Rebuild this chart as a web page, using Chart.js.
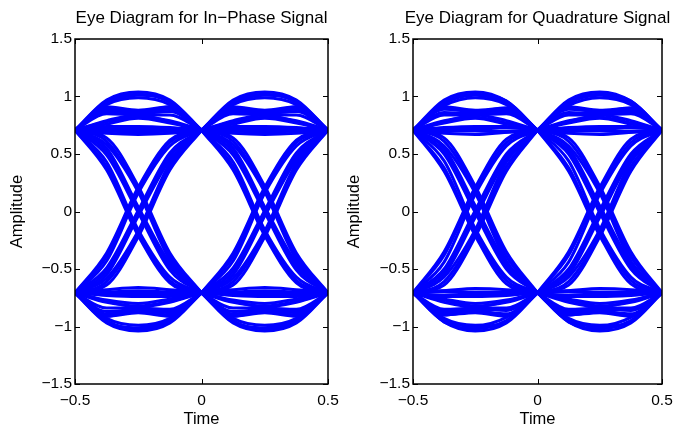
<!DOCTYPE html>
<html>
<head>
<meta charset="utf-8">
<script src="https://cdn.jsdelivr.net/npm/chart.js@4.4.1/dist/chart.umd.min.js"></script>
<style>
  html, body { margin: 0; background: #fff; overflow: hidden; width: 675px; height: 427px; }
  canvas { position: absolute; left: 0; top: 0; }
</style>
</head>
<body>
<canvas id="inPhase" width="675" height="427"></canvas>
<canvas id="quad" width="760" height="427"></canvas>
<script>
// sample times inside one symbol, and the start of each of the two eyes
var eyeOffsets = [0, 0.125, 0.25, 0.375, 0.5];
var eyeStarts = [-0.5, 0];
var timeTicks = [-0.5, 0, 0.5];
var ampTicks = [-1.5, -1, -0.5, 0, 0.5, 1, 1.5];

// traces (one symbol each)
var inPhaseTraces = [
  [0.707, 0.97, 1.04, 0.97, 0.707],
  [0.707, 0.96, 1.02, 0.95, 0.707],
  [0.707, 0.94, 1.01, 0.96, 0.707],
  [0.707, 0.93, 0.99, 0.93, 0.707],
  [0.707, 0.91, 0.88, 0.91, 0.707],
  [0.707, 0.90, 0.87, 0.89, 0.707],
  [0.707, 0.88, 0.86, 0.91, 0.707],
  [0.707, 0.87, 0.85, 0.87, 0.707],
  [0.707, 0.85, 0.84, 0.84, 0.707],
  [0.707, 0.79, 0.84, 0.78, 0.707],
  [0.707, 0.78, 0.82, 0.79, 0.707],
  [0.707, 0.76, 0.81, 0.77, 0.707],
  [0.707, 0.74, 0.74, 0.73, 0.707],
  [0.707, 0.73, 0.72, 0.72, 0.707],
  [0.707, 0.71, 0.71, 0.71, 0.707],
  [0.707, 0.70, 0.69, 0.70, 0.707],
  [0.707, 0.68, 0.67, 0.68, 0.707],
  [-0.707, -0.97, -1.04, -0.97, -0.707],
  [-0.707, -0.95, -1.02, -0.96, -0.707],
  [-0.707, -0.96, -1.01, -0.94, -0.707],
  [-0.707, -0.93, -0.99, -0.93, -0.707],
  [-0.707, -0.91, -0.88, -0.91, -0.707],
  [-0.707, -0.89, -0.87, -0.90, -0.707],
  [-0.707, -0.91, -0.86, -0.88, -0.707],
  [-0.707, -0.87, -0.85, -0.87, -0.707],
  [-0.707, -0.84, -0.84, -0.85, -0.707],
  [-0.707, -0.78, -0.83, -0.79, -0.707],
  [-0.707, -0.79, -0.82, -0.78, -0.707],
  [-0.707, -0.77, -0.80, -0.76, -0.707],
  [-0.707, -0.73, -0.74, -0.74, -0.707],
  [-0.707, -0.72, -0.72, -0.73, -0.707],
  [-0.707, -0.71, -0.71, -0.71, -0.707],
  [-0.707, -0.70, -0.69, -0.70, -0.707],
  [-0.707, -0.68, -0.66, -0.68, -0.707],
  [0.707, 0.36, -0.21, -0.62, -0.707],
  [0.707, 0.39, -0.19, -0.60, -0.707],
  [0.707, 0.43, -0.16, -0.57, -0.707],
  [0.707, 0.49, -0.01, -0.51, -0.707],
  [0.707, 0.52, 0.02, -0.48, -0.707],
  [0.707, 0.55, 0.04, -0.45, -0.707],
  [0.707, 0.58, 0.17, -0.42, -0.707],
  [0.707, 0.61, 0.19, -0.39, -0.707],
  [0.707, 0.64, 0.22, -0.36, -0.707],
  [-0.707, -0.36, 0.21, 0.62, 0.707],
  [-0.707, -0.39, 0.19, 0.60, 0.707],
  [-0.707, -0.43, 0.16, 0.57, 0.707],
  [-0.707, -0.49, 0.01, 0.51, 0.707],
  [-0.707, -0.52, -0.02, 0.48, 0.707],
  [-0.707, -0.55, -0.04, 0.45, 0.707],
  [-0.707, -0.58, -0.17, 0.42, 0.707],
  [-0.707, -0.61, -0.19, 0.39, 0.707],
  [-0.707, -0.64, -0.22, 0.36, 0.707]
];

// traces
var quadTraces = [
  [0.707, 0.97, 1.04, 0.96, 0.707],
  [0.707, 0.95, 1.02, 0.96, 0.707],
  [0.707, 0.94, 1.01, 0.94, 0.707],
  [0.707, 0.92, 0.99, 0.93, 0.707],
  [0.707, 0.91, 0.88, 0.90, 0.707],
  [0.707, 0.89, 0.87, 0.90, 0.707],
  [0.707, 0.90, 0.86, 0.88, 0.707],
  [0.707, 0.86, 0.85, 0.87, 0.707],
  [0.707, 0.84, 0.84, 0.85, 0.707],
  [0.707, 0.78, 0.84, 0.79, 0.707],
  [0.707, 0.79, 0.82, 0.77, 0.707],
  [0.707, 0.77, 0.81, 0.76, 0.707],
  [0.707, 0.73, 0.74, 0.74, 0.707],
  [0.707, 0.72, 0.73, 0.73, 0.707],
  [0.707, 0.71, 0.71, 0.70, 0.707],
  [0.707, 0.70, 0.70, 0.69, 0.707],
  [0.707, 0.68, 0.67, 0.69, 0.707],
  [-0.707, -0.96, -1.04, -0.97, -0.707],
  [-0.707, -0.96, -1.02, -0.95, -0.707],
  [-0.707, -0.94, -1.00, -0.95, -0.707],
  [-0.707, -0.93, -0.99, -0.92, -0.707],
  [-0.707, -0.90, -0.88, -0.91, -0.707],
  [-0.707, -0.90, -0.87, -0.89, -0.707],
  [-0.707, -0.88, -0.86, -0.90, -0.707],
  [-0.707, -0.87, -0.85, -0.86, -0.707],
  [-0.707, -0.85, -0.84, -0.84, -0.707],
  [-0.707, -0.79, -0.83, -0.78, -0.707],
  [-0.707, -0.77, -0.82, -0.79, -0.707],
  [-0.707, -0.76, -0.80, -0.77, -0.707],
  [-0.707, -0.74, -0.74, -0.73, -0.707],
  [-0.707, -0.73, -0.73, -0.72, -0.707],
  [-0.707, -0.70, -0.71, -0.71, -0.707],
  [-0.707, -0.69, -0.70, -0.70, -0.707],
  [-0.707, -0.69, -0.67, -0.68, -0.707],
  [0.707, 0.35, -0.21, -0.63, -0.707],
  [0.707, 0.38, -0.19, -0.60, -0.707],
  [0.707, 0.44, -0.15, -0.57, -0.707],
  [0.707, 0.50, -0.01, -0.50, -0.707],
  [0.707, 0.52, 0.02, -0.48, -0.707],
  [0.707, 0.55, 0.05, -0.45, -0.707],
  [0.707, 0.57, 0.16, -0.43, -0.707],
  [0.707, 0.61, 0.19, -0.39, -0.707],
  [0.707, 0.64, 0.22, -0.35, -0.707],
  [-0.707, -0.35, 0.21, 0.63, 0.707],
  [-0.707, -0.38, 0.19, 0.60, 0.707],
  [-0.707, -0.44, 0.15, 0.57, 0.707],
  [-0.707, -0.50, 0.01, 0.50, 0.707],
  [-0.707, -0.52, -0.02, 0.48, 0.707],
  [-0.707, -0.55, -0.05, 0.45, 0.707],
  [-0.707, -0.57, -0.16, 0.43, 0.707],
  [-0.707, -0.61, -0.19, 0.39, 0.707],
  [-0.707, -0.64, -0.22, 0.35, 0.707]
];

function minus(v) {
  return v < 0 ? '\u2212' + Math.abs(v) : String(v);
}

// matlab style box with inward ticks
var boxPlugin = {
  id: 'box',
  afterDraw: function(chart) {
    var ctx = chart.ctx, a = chart.chartArea;
    var xs = chart.scales.x, ys = chart.scales.y;
    ctx.save();
    ctx.strokeStyle = '#000';
    ctx.lineWidth = 1.5;
    ctx.strokeRect(a.left, a.top, a.right - a.left, a.bottom - a.top);
    ctx.lineWidth = 1;
    ctx.beginPath();
    timeTicks.forEach(function(t) {
      var px = Math.round(xs.getPixelForValue(t)) + 0.5;
      ctx.moveTo(px, a.bottom); ctx.lineTo(px, a.bottom - 5);
      ctx.moveTo(px, a.top); ctx.lineTo(px, a.top + 5);
    });
    ampTicks.forEach(function(v) {
      var py = Math.round(ys.getPixelForValue(v)) + 0.5;
      ctx.moveTo(a.left, py); ctx.lineTo(a.left + 5, py);
      ctx.moveTo(a.right, py); ctx.lineTo(a.right - 5, py);
    });
    ctx.stroke();
    ctx.restore();
  }
};

var font = 'Liberation Sans, Arial, sans-serif';

function makeEye(id, titleText, traces, padLeft, padRight, yWidth) {
  var sets = [];
  eyeStarts.forEach(function(start) {
    traces.forEach(function(tr) {
      sets.push({
        data: tr.map(function(v, i) { return { x: start + eyeOffsets[i], y: v }; }),
        borderColor: '#0000ff',
        borderWidth: 3,
        pointRadius: 0,
        cubicInterpolationMode: 'monotone',
        fill: false
      });
    });
  });

  var ctx = document.getElementById(id).getContext('2d');
  return new Chart(ctx, {
    type: 'line',
    data: { datasets: sets },
    options: {
      responsive: false,
      animation: false,
      events: [],
      layout: { padding: { left: padLeft, right: padRight, top: 0, bottom: 0 } },
      plugins: {
        legend: { display: false },
        tooltip: { enabled: false },
        title: {
          display: true,
          text: titleText,
          color: '#000',
          font: { family: font, size: 17, weight: 'normal' },
          padding: { top: 8, bottom: 10.6 }
        }
      },
      scales: {
        x: {
          type: 'linear',
          min: -0.5, max: 0.5,
          grid: { display: false, drawTicks: false },
          border: { display: false },
          afterBuildTicks: function(s) { s.ticks = timeTicks.map(function(v) { return { value: v }; }); },
          afterFit: function(s) { s.height = 43; },
          ticks: {
            color: '#000', padding: 7, maxRotation: 0,
            font: { family: font, size: 15.5 },
            callback: minus
          },
          title: {
            display: true, text: 'Time', color: '#000',
            font: { family: font, size: 16.5 },
            padding: { top: 0, bottom: -2 }
          }
        },
        y: {
          type: 'linear',
          min: -1.5, max: 1.5,
          grid: { display: false, drawTicks: false },
          border: { display: false },
          afterBuildTicks: function(s) { s.ticks = ampTicks.map(function(v) { return { value: v }; }); },
          afterFit: function(s) { s.width = yWidth; },
          ticks: {
            color: '#000', padding: 3,
            font: { family: font, size: 15.5 },
            callback: minus
          },
          title: {
            display: true, text: 'Amplitude', color: '#000',
            font: { family: font, size: 16.5 },
            padding: { top: 8, bottom: 0 }
          }
        },
        // empty right axis, same width as the left one, so the title centres over the box
        yRight: {
          type: 'linear',
          position: 'right',
          min: -1.5, max: 1.5,
          grid: { display: false, drawTicks: false },
          border: { display: false },
          ticks: { display: false },
          afterFit: function(s) { s.width = yWidth; }
        }
      }
    },
    plugins: [boxPlugin]
  });
}

makeEye('inPhase', 'Eye Diagram for In\u2212Phase Signal', inPhaseTraces, 0, 272, 75);
makeEye('quad', 'Eye Diagram for Quadrature Signal', quadTraces, 337, 22, 76);
</script>
</body>
</html>
